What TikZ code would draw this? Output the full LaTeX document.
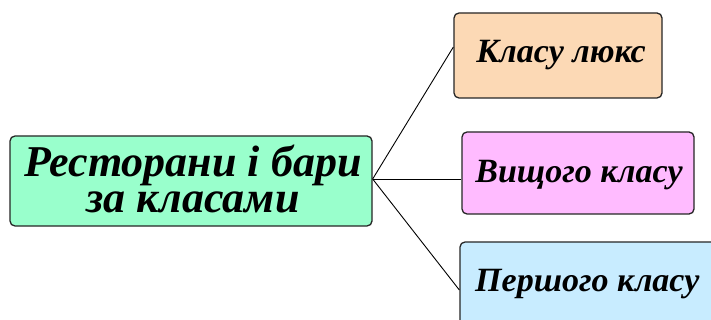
\documentclass[tikz,border=0pt]{standalone}
\usepackage{fontspec}
\setmainfont{Liberation Serif}
\definecolor{mintfill}{RGB}{153,255,204}
\definecolor{peachfill}{RGB}{252,217,181}
\definecolor{pinkfill}{RGB}{255,187,255}
\definecolor{skyfill}{RGB}{200,236,255}
\begin{document}
\begin{tikzpicture}[x=1pt,y=-1pt,
  box/.style={draw=black!85, line width=1.3pt, rounded corners=5pt, inner sep=0pt},
  caption/.style={inner sep=0pt, anchor=base},
  link/.style={draw=black, line width=0.9pt}]
\useasboundingbox (0,0) rectangle (711,320);
\clip (0,0) rectangle (711,320);
\fill[white] (0,0) rectangle (711,320);

% boxes
\node[box, fill=mintfill, minimum width=362pt, minimum height=90pt] (main) at (191,181) {};
\node[box, fill=peachfill, minimum width=208pt, minimum height=85pt] (lux) at (558,55.5) {};
\node[box, fill=pinkfill, minimum width=232pt, minimum height=82pt] (high) at (578,173) {};
\node[box, fill=skyfill, minimum width=260pt, minimum height=100pt] (first) at (590,292) {};

% captions (base anchor of a two-line node sits on its last line)
\node[caption, align=center, font=\fontsize{44}{36}\bfseries\itshape\selectfont] (mainT) at (193,212.5) {Ресторани і бари\\за класами};
\node[caption, font=\fontsize{34}{34}\bfseries\itshape\selectfont] (luxT) at (561,62.5) {Класу люкс};
\node[caption, font=\fontsize{34}{34}\bfseries\itshape\selectfont] (highT) at (579,183) {Вищого класу};
\node[caption, anchor=base west, font=\fontsize{34}{34}\bfseries\itshape\selectfont] (firstT) at (475,291) {Першого класу};

% connectors
\coordinate (hub) at ([yshift=2pt]main.east);
\draw[link] (hub) -- ([yshift=8.5pt]lux.west);
\draw[link] (hub) -- ([yshift=-6pt]high.west);
\draw[link] (hub) -- ([yshift=2pt]first.west);
\end{tikzpicture}
\end{document}
